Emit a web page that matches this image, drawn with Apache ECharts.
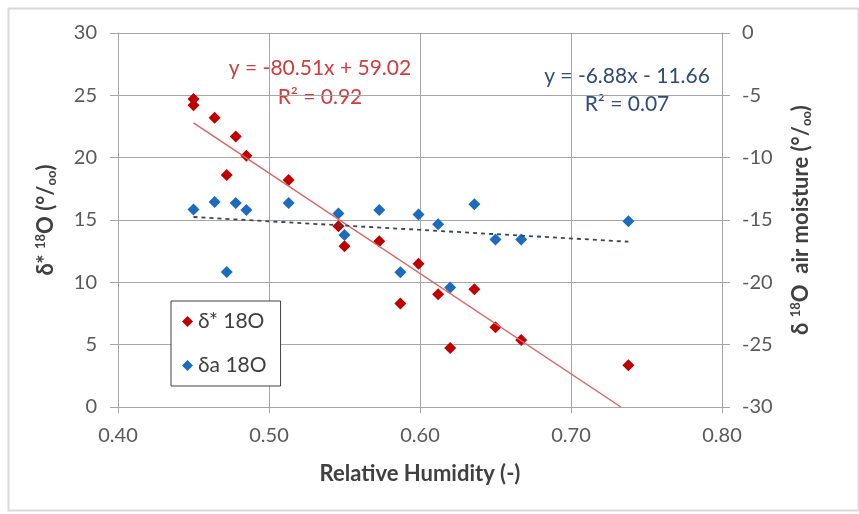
<!DOCTYPE html>
<html>
<head>
<meta charset="utf-8">
<script src="https://cdn.jsdelivr.net/npm/echarts@6/dist/echarts.min.js"></script>
<style>html,body{margin:0;padding:0;background:#fff;}#c{width:859px;height:514px;}</style>
</head>
<body>
<div id="c"></div>
<script>
// Relative humidity (x) for each series
var rhStar = [0.450, 0.450, 0.464, 0.478, 0.485, 0.472, 0.513, 0.546, 0.550, 0.573, 0.599, 0.587, 0.612, 0.636, 0.620, 0.650, 0.667, 0.738];
var dStar18O = [24.7, 24.2, 23.2, 21.7, 20.15, 18.6, 18.2, 14.5, 12.9, 13.3, 11.5, 8.3, 9.05, 9.45, 4.74, 6.4, 5.38, 3.35];
var rhAir = [0.450, 0.464, 0.478, 0.485, 0.472, 0.513, 0.546, 0.550, 0.573, 0.587, 0.599, 0.612, 0.620, 0.636, 0.650, 0.667, 0.738];
var dAir18O = [-14.16, -13.55, -13.63, -14.2, -19.17, -13.63, -14.48, -16.2, -14.2, -19.2, -14.56, -15.34, -20.42, -13.73, -16.57, -16.57, -15.1];
// trendline endpoints
var trendStarX = [0.450, 0.733];
var trendStarY = [22.79, 0];
var trendAirX = [0.450, 0.738];
var trendAirY = [-14.76, -16.74];
var xTicks = [0.40, 0.50, 0.60, 0.70, 0.80];
var leftTicks = [0, 5, 10, 15, 20, 25, 30];
var rightTicks = [-30, -25, -20, -15, -10, -5, 0];
var eqStar = ['y = -80.51x + 59.02', 'R\u00B2 = 0.92'];
var eqAir = ['y = -6.88x - 11.66', 'R\u00B2 = 0.07'];
var legendNames = ['\u03B4* 18O', '\u03B4a 18O'];

function zip(a, b) { return a.map(function (v, i) { return [v, b[i]]; }); }

var FONT = 'Lato, "Open Sans", sans-serif';
var gridCol = '#A6A6A6';
var labelCol = '#595959';

var chart = echarts.init(document.getElementById('c'), null, {renderer: 'canvas'});
var nameRich = {
  b: {fontFamily: FONT, fontWeight: 'bold', fontSize: 22, color: '#404040'},
  s: {fontFamily: FONT, fontWeight: 'bold', fontSize: 13, color: '#404040', verticalAlign: 'top', lineHeight: 24},
  u: {fontFamily: FONT, fontWeight: 'bold', fontSize: 13, color: '#404040', verticalAlign: 'bottom', lineHeight: 20}
};
chart.setOption({
  animation: false,
  backgroundColor: '#fff',
  textStyle: {fontFamily: FONT},
  grid: {left: 118, top: 33, right: 137, bottom: 107, containLabel: false},
  legend: {
    orient: 'vertical', left: 171, top: 301,
    data: legendNames.map(function (n) { return {name: n, icon: 'diamond'}; }),
    itemWidth: 11, itemHeight: 11, itemGap: 23,
    padding: [10, 14, 10, 11],
    borderColor: '#404040', borderWidth: 1, backgroundColor: '#fff',
    textStyle: {fontFamily: FONT, fontSize: 21, color: '#404040'}
  },
  xAxis: {
    type: 'value', min: xTicks[0], max: xTicks[xTicks.length - 1], interval: 0.1,
    name: 'Relative Humidity (-)', nameLocation: 'middle', nameGap: 56,
    nameTextStyle: {fontFamily: FONT, fontWeight: 'bold', fontSize: 22, color: '#404040'},
    axisLine: {show: true, lineStyle: {color: gridCol}},
    axisTick: {show: true, length: 6, lineStyle: {color: gridCol}},
    axisLabel: {fontSize: 20, color: labelCol, margin: 19, formatter: function (v) { return v.toFixed(2); }},
    splitLine: {show: true, lineStyle: {color: gridCol, width: 1}}
  },
  yAxis: [{
    type: 'value', min: leftTicks[0], max: leftTicks[leftTicks.length - 1], interval: 5,
    name: '{b|\u03B4* }{s|18}{b|O (\u00B0/}{u|oo}{b|)}',
    nameLocation: 'middle', nameGap: 60, nameRotate: 90,
    nameTextStyle: {rich: nameRich},
    axisLine: {show: true, lineStyle: {color: gridCol}},
    axisTick: {show: true, length: 8, lineStyle: {color: gridCol}},
    axisLabel: {fontSize: 20, color: labelCol, margin: 21},
    splitLine: {show: true, lineStyle: {color: gridCol, width: 1}}
  }, {
    type: 'value', min: rightTicks[0], max: rightTicks[rightTicks.length - 1], interval: 5,
    position: 'right',
    name: '{b|\u03B4 }{s|18}{b|O  air moisture (\u00B0/}{u|oo}{b|)}',
    nameLocation: 'middle', nameGap: 67, nameRotate: 90,
    nameTextStyle: {rich: nameRich},
    axisLine: {show: true, lineStyle: {color: gridCol}},
    axisTick: {show: true, length: 8, lineStyle: {color: gridCol}},
    axisLabel: {fontSize: 20, color: labelCol, margin: 20},
    splitLine: {show: false}
  }],
  series: [{
    name: legendNames[0], type: 'scatter', yAxisIndex: 0, z: 4,
    symbol: 'diamond', symbolSize: 12,
    itemStyle: {color: '#C00000', opacity: 1},
    data: zip(rhStar, dStar18O)
  }, {
    name: legendNames[1], type: 'scatter', yAxisIndex: 1, z: 3,
    symbol: 'diamond', symbolSize: 12,
    itemStyle: {color: '#1B6CBE', opacity: 1},
    data: zip(rhAir, dAir18O)
  }, {
    name: 'trendStar', type: 'line', yAxisIndex: 0, z: 5, symbol: 'none',
    lineStyle: {color: '#DD6565', width: 1.5},
    data: zip(trendStarX, trendStarY)
  }, {
    name: 'trendAir', type: 'line', yAxisIndex: 1, z: 5, symbol: 'none',
    lineStyle: {color: '#3A4556', width: 1.8, type: [4, 4]},
    data: zip(trendAirX, trendAirY)
  }],
  graphic: [
    {type: 'rect', left: 6, top: 6, shape: {width: 850, height: 502}, style: {fill: 'none', stroke: '#D9D9D9', lineWidth: 2}, silent: true, z: -1},
    {type: 'text', x: 320, y: 68, style: {text: eqStar[0], fill: '#D23B3B', font: '21px ' + FONT, textAlign: 'center', textVerticalAlign: 'middle'}},
    {type: 'text', x: 320, y: 97, style: {text: eqStar[1], fill: '#D23B3B', font: '21px ' + FONT, textAlign: 'center', textVerticalAlign: 'middle'}},
    {type: 'text', x: 627, y: 76, style: {text: eqAir[0], fill: '#2E4B7C', font: '21px ' + FONT, textAlign: 'center', textVerticalAlign: 'middle'}},
    {type: 'text', x: 627, y: 104, style: {text: eqAir[1], fill: '#2E4B7C', font: '21px ' + FONT, textAlign: 'center', textVerticalAlign: 'middle'}}
  ]
});
</script>
</body>
</html>
